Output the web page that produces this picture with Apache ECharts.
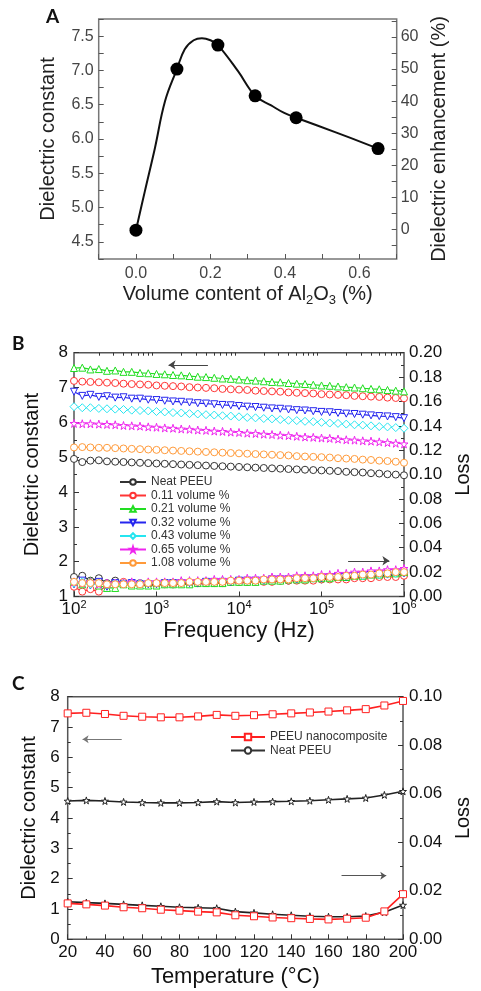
<!DOCTYPE html>
<html><head><meta charset="utf-8">
<script src="https://cdn.jsdelivr.net/npm/echarts@6/dist/echarts.min.js"></script>
<style>html,body{margin:0;padding:0;background:#fff}#c{width:481px;height:991px}</style>
</head><body><div id="c"></div>
<script>
const FONT = 'Liberation Sans';

// ---------- Panel A ----------
const volContent = [0, 0.11, 0.22, 0.32, 0.43, 0.65];
const dielA = [4.67, 7.02, 7.37, 6.63, 6.31, 5.86];
// fitted curve as drawn in the figure
const curveAX = [0, 0.024, 0.051, 0.078, 0.11, 0.131, 0.155, 0.177, 0.2, 0.22, 0.274, 0.32, 0.363, 0.398, 0.43, 0.54, 0.65];
const curveAY = [4.67, 5.24, 5.87, 6.55, 7.02, 7.31, 7.44, 7.47, 7.44, 7.37, 6.99, 6.63, 6.49, 6.38, 6.31, 6.09, 5.86];
const neatA = 4.68;
const aYMin = 4.25, aYMax = 7.75;
const enhTicks = [-5, 0, 5, 10, 15, 20, 25, 30, 35, 40, 45, 50, 55, 60, 65];
const enhLabels = [0, 10, 20, 30, 40, 50, 60];

// ---------- Panel B ----------
const freqB = [100,126,158,200,251,316,398,501,631,794,
  1000,1259,1585,1995,2512,3162,3981,5012,6310,7943,
  10000,12589,15849,19953,25119,31623,39811,50119,63096,79433,
  100000,125893,158489,199526,251189,316228,398107,501187,630957,794328,
  1000000];
const bMinorTicks = [200,300,400,500,600,700,800,900,2000,3000,4000,5000,6000,7000,8000,9000,
  20000,30000,40000,50000,60000,70000,80000,90000,200000,300000,400000,500000,600000,700000,800000,900000];
const bNames = ['Neat PEEU','0.11 volume %','0.21 volume %','0.32 volume %','0.43 volume %','0.65 volume %','1.08 volume %'];
const dielNeatB = [4.95,4.86,4.90,4.91,4.88,4.87,4.86,4.85,4.84,4.83,4.82,4.81,4.80,4.79,4.78,4.77,4.76,4.75,4.74,4.73,4.72,4.71,4.70,4.69,4.68,4.67,4.66,4.65,4.64,4.63,4.62,4.61,4.60,4.58,4.57,4.56,4.54,4.53,4.51,4.50,4.48];
const diel011B = [7.19,7.17,7.16,7.15,7.14,7.13,7.11,7.10,7.09,7.08,7.06,7.05,7.04,7.03,7.01,7.00,6.99,6.98,6.96,6.95,6.94,6.93,6.91,6.90,6.89,6.88,6.86,6.85,6.84,6.83,6.81,6.80,6.79,6.78,6.76,6.75,6.74,6.73,6.71,6.70,6.69];
const diel021B = [7.56,7.57,7.52,7.53,7.48,7.49,7.45,7.45,7.42,7.41,7.39,7.38,7.36,7.35,7.33,7.31,7.30,7.28,7.26,7.25,7.23,7.21,7.20,7.18,7.16,7.15,7.13,7.11,7.10,7.08,7.06,7.05,7.03,7.01,7.00,6.98,6.96,6.95,6.93,6.91,6.89];
const diel032B = [6.88,6.76,6.79,6.73,6.75,6.71,6.72,6.68,6.68,6.65,6.64,6.62,6.60,6.59,6.57,6.55,6.54,6.52,6.50,6.49,6.47,6.45,6.44,6.42,6.40,6.39,6.37,6.35,6.34,6.32,6.30,6.29,6.27,6.25,6.24,6.22,6.20,6.18,6.17,6.15,6.12];
const diel043B = [6.45,6.42,6.42,6.40,6.39,6.38,6.37,6.35,6.34,6.33,6.31,6.30,6.28,6.27,6.25,6.24,6.22,6.21,6.19,6.18,6.16,6.14,6.13,6.11,6.10,6.08,6.06,6.05,6.03,6.02,6.00,5.98,5.97,5.95,5.93,5.92,5.90,5.88,5.87,5.85,5.83];
const diel065B = [5.97,5.96,5.96,5.95,5.94,5.93,5.91,5.90,5.89,5.87,5.86,5.84,5.83,5.81,5.80,5.78,5.77,5.75,5.74,5.72,5.71,5.69,5.68,5.66,5.65,5.63,5.62,5.60,5.58,5.57,5.55,5.54,5.52,5.50,5.49,5.47,5.46,5.44,5.42,5.40,5.38];
const diel108B = [5.28,5.29,5.28,5.27,5.27,5.26,5.25,5.24,5.23,5.22,5.21,5.20,5.19,5.18,5.17,5.16,5.15,5.14,5.13,5.12,5.11,5.10,5.09,5.08,5.07,5.06,5.05,5.03,5.02,5.01,5.00,4.99,4.97,4.96,4.95,4.93,4.92,4.90,4.89,4.87,4.84];
const lossNeatB = [0.016,0.017,0.013,0.015,0.011,0.013,0.011,0.010,0.011,0.010,0.010,0.011,0.010,0.011,0.011,0.011,0.011,0.012,0.012,0.012,0.012,0.012,0.013,0.013,0.013,0.013,0.013,0.014,0.014,0.014,0.014,0.015,0.015,0.015,0.016,0.016,0.016,0.017,0.017,0.018,0.018];
const loss011B = [0.008,0.004,0.006,0.004,0.009,0.011,0.012,0.010,0.010,0.010,0.010,0.010,0.010,0.011,0.011,0.011,0.011,0.011,0.011,0.012,0.012,0.012,0.012,0.012,0.012,0.013,0.013,0.013,0.013,0.013,0.014,0.014,0.014,0.014,0.015,0.015,0.015,0.016,0.016,0.016,0.017];
const loss021B = [0.012,0.010,0.013,0.009,0.007,0.007,0.010,0.009,0.009,0.009,0.009,0.010,0.010,0.010,0.010,0.011,0.011,0.011,0.011,0.012,0.012,0.012,0.012,0.013,0.013,0.013,0.014,0.014,0.014,0.015,0.015,0.015,0.016,0.016,0.017,0.017,0.018,0.018,0.019,0.019,0.020];
const loss032B = [0.010,0.013,0.009,0.012,0.008,0.011,0.010,0.011,0.010,0.010,0.010,0.011,0.011,0.011,0.011,0.011,0.012,0.012,0.012,0.012,0.013,0.013,0.013,0.013,0.014,0.014,0.014,0.014,0.015,0.015,0.015,0.016,0.016,0.016,0.017,0.017,0.018,0.018,0.018,0.019,0.019];
const loss043B = [0.011,0.012,0.010,0.011,0.010,0.011,0.011,0.011,0.011,0.011,0.011,0.011,0.011,0.012,0.012,0.012,0.012,0.012,0.013,0.013,0.013,0.013,0.013,0.014,0.014,0.014,0.014,0.015,0.015,0.015,0.016,0.016,0.016,0.017,0.017,0.017,0.018,0.018,0.019,0.019,0.020];
const loss065B = [0.012,0.011,0.012,0.010,0.011,0.011,0.011,0.012,0.011,0.012,0.012,0.012,0.012,0.013,0.013,0.013,0.013,0.014,0.014,0.014,0.014,0.015,0.015,0.015,0.016,0.016,0.016,0.017,0.017,0.017,0.018,0.018,0.019,0.019,0.020,0.020,0.021,0.021,0.022,0.022,0.023];
const loss108B = [0.012,0.011,0.011,0.011,0.010,0.010,0.010,0.010,0.010,0.011,0.011,0.011,0.011,0.011,0.012,0.012,0.012,0.012,0.012,0.013,0.013,0.013,0.013,0.014,0.014,0.014,0.014,0.015,0.015,0.015,0.016,0.016,0.016,0.017,0.017,0.018,0.018,0.019,0.019,0.020,0.020];
const bDiel = [dielNeatB, diel011B, diel021B, diel032B, diel043B, diel065B, diel108B];
const bLoss = [lossNeatB, loss011B, loss021B, loss032B, loss043B, loss065B, loss108B];

// ---------- Panel C ----------
const tempC = [20,30,40,50,60,70,80,90,100,110,120,130,140,150,160,170,180,190,200];
const cNames = ['PEEU nanocomposite', 'Neat PEEU'];
const dielNanoC = [7.45,7.47,7.43,7.37,7.34,7.32,7.32,7.35,7.40,7.37,7.39,7.42,7.45,7.48,7.51,7.55,7.59,7.71,7.86];
const dielNeatC = [4.56,4.58,4.56,4.53,4.51,4.50,4.50,4.51,4.54,4.51,4.53,4.54,4.55,4.57,4.60,4.63,4.66,4.76,4.88];
const lossNanoC = [0.0148,0.0144,0.0139,0.0132,0.0128,0.0122,0.0118,0.0114,0.0111,0.0099,0.0095,0.0090,0.0087,0.0084,0.0082,0.0085,0.0089,0.0115,0.0186];
const lossNeatC = [0.0155,0.0151,0.0148,0.0144,0.0140,0.0136,0.0132,0.0130,0.0128,0.0114,0.0109,0.0103,0.0099,0.0095,0.0093,0.0093,0.0096,0.0112,0.0141];

// ---------- styles ----------
const bColors = ['#333333','#ff3535','#22dd22','#2525ee','#25e5f0','#ee25ee','#ff9a3a'];
const starPath = 'path://M50,0 L61,35 L98,35 L68,57 L79,91 L50,70 L21,91 L32,57 L2,35 L39,35 Z';
const bSymbols = ['circle','circle','triangle','triangle','diamond',starPath,'circle'];
const bRotate = [0,0,0,180,0,0,0];
const bSizes = [7,7,7,7,8,8,7];

const chart = echarts.init(document.getElementById('c'), null, {renderer:'canvas'});

const noLine = {show:false, onZero:false};
const tickA = {show:true, inside:true, length:5, lineStyle:{color:'#555', width:1}};
const tickB = {show:true, inside:true, length:5, lineStyle:{color:'#333', width:1}};
const minorB = {show:true, splitNumber:2, length:3, lineStyle:{color:'#333', width:1}};
const F = (o) => Object.assign({fontFamily:FONT}, o);

const series = [];
// A
series.push({type:'line', xAxisIndex:0, yAxisIndex:0, data: curveAX.map((x,i)=>[x, curveAY[i]]),
  smooth:0.4, showSymbol:false, lineStyle:{color:'#111', width:2}, silent:true, z:2});
series.push({type:'scatter', xAxisIndex:0, yAxisIndex:0, data: volContent.map((x,i)=>[x, dielA[i]]),
  symbolSize:13, itemStyle:{color:'#000', opacity:1}, z:3});
// B
bNames.forEach((n,i)=>{
  const c = bColors[i];
  const common = {name:n, type:'line', xAxisIndex:1, symbol:bSymbols[i], symbolSize:bSizes[i], symbolRotate:bRotate[i],
    lineStyle:{color:c, width:1.2}, itemStyle:{color:'#fff', borderColor:c, borderWidth:1}};
  const s1 = Object.assign({}, common, {yAxisIndex:2, data: freqB.map((f,k)=>[f, bDiel[i][k]])});
  const s2 = Object.assign({}, common, {yAxisIndex:3, data: freqB.map((f,k)=>[f, bLoss[i][k]])});
  if (i === 2) s1.markLine = {silent:true, symbol:['none','arrow'], symbolSize:7, label:{show:false},
    lineStyle:{color:'#444', width:1, type:'solid'}, data:[[{coord:[4200,7.65]},{coord:[1400,7.65]}]]};
  if (i === 0) s2.markLine = {silent:true, symbol:['none','arrow'], symbolSize:7, label:{show:false},
    lineStyle:{color:'#444', width:1, type:'solid'}, data:[[{coord:[210000,0.0293]},{coord:[665000,0.0293]}]]};
  series.push(s1, s2);
});
// C
const cColors = ['#ff2020','#222222'];
const cSym = ['rect', starPath];
const cSize = [7, 7];
const cDiel = [dielNanoC, dielNeatC];
const cLoss = [lossNanoC, lossNeatC];
cNames.forEach((n,i)=>{
  const c = cColors[i];
  const common = {name:n, type:'line', xAxisIndex:4, symbol:cSym[i], symbolSize:cSize[i],
    lineStyle:{color:c, width:1.6}, itemStyle:{color:'#fff', borderColor:c, borderWidth:1}, z: i===0?3:2};
  const s1 = Object.assign({}, common, {yAxisIndex:4, data: tempC.map((t,k)=>[t, cDiel[i][k]])});
  const s2 = Object.assign({}, common, {yAxisIndex:5, data: tempC.map((t,k)=>[t, cLoss[i][k]])});
  if (i === 0) {
    s1.markLine = {silent:true, symbol:['none','arrow'], symbolSize:6, label:{show:false},
      lineStyle:{color:'#777', width:1, type:'solid'}, data:[[{coord:[49,6.6]},{coord:[28,6.6]}]]};
    s2.markLine = {silent:true, symbol:['none','arrow'], symbolSize:6, label:{show:false},
      lineStyle:{color:'#555', width:1, type:'solid'}, data:[[{coord:[167,0.0262]},{coord:[191,0.0262]}]]};
  }
  series.push(s1, s2);
});

const aEnhMin = (aYMin/neatA - 1)*100, aEnhMax = (aYMax/neatA - 1)*100;
const freqLogMin = Math.log10(freqB[0]), freqLogMax = Math.log10(freqB[freqB.length-1]);

const option = {
  animation:false,
  textStyle:{fontFamily:FONT},
  title:[
    {text:'A', left:46, top:7, padding:0, textStyle:{fontFamily:'Lato', fontWeight:'bold', fontSize:19, color:'#111'}},
    {text:'B', left:12, top:334, padding:0, textStyle:{fontFamily:'Lato', fontWeight:'bold', fontSize:19, color:'#111'}},
    {text:'C', left:12, top:674, padding:0, textStyle:{fontFamily:'Lato', fontWeight:'bold', fontSize:19, color:'#111'}}
  ],
  legend:[
    {data:bNames, orient:'vertical', left:119, top:476, itemWidth:26, itemHeight:7, itemGap:1.5, padding:0,
      textStyle:F({fontSize:12, color:'#333'}), selectedMode:false},
    {data:cNames, orient:'vertical', left:230, top:731, itemWidth:34, itemHeight:8, itemGap:1.5, padding:0,
      textStyle:F({fontSize:12, color:'#333'}), selectedMode:false}
  ],
  grid:[
    {left:98.7, top:19, width:298, height:240, show:true, borderColor:'#777', borderWidth:1.5, backgroundColor:'transparent'},
    {left:74, top:352.7, width:339.3, height:243.8, show:true, borderColor:'#555', borderWidth:1.5, backgroundColor:'transparent'},
    {left:67.7, top:696.7, width:345.6, height:242.6, show:true, borderColor:'#555', borderWidth:1.5, backgroundColor:'transparent'}
  ],
  xAxis:[
    {gridIndex:0, type:'value', min:-0.1, max:0.7, interval:0.1, axisLine:noLine, splitLine:{show:false}, axisTick:tickA,
      axisLabel:F({fontSize:16, color:'#444', margin:7, formatter:v=>{const r=Math.round(v*10); return (r>=0 && r<=6 && r%2===0)?(r/10).toFixed(1):'';}}),
      name:'Volume content of Al{sub|2}O{sub|3} (%)', nameLocation:'middle', nameGap:20,
      nameTextStyle:F({fontSize:20, color:'#222', lineHeight:24, rich:{sub:{fontFamily:FONT, fontSize:13, lineHeight:13, verticalAlign:'bottom', color:'#222'}}})},
    {gridIndex:1, type:'log', logBase:10, min:100, max:1000000, axisLine:noLine, splitLine:{show:false}, axisTick:tickB,
      axisLabel:{margin:3, color:'#111', formatter:v=>'{b|10}{s|'+Math.round(Math.log10(v))+'}',
        rich:{b:{fontFamily:FONT, fontSize:17, lineHeight:20, color:'#111'}, s:{fontFamily:FONT, fontSize:11, lineHeight:11, verticalAlign:'top', color:'#111'}}},
      name:'Frequency (Hz)', nameLocation:'middle', nameGap:23, nameTextStyle:F({fontSize:22, color:'#111'})},
    // minor ticks of the log axis, placed in log10 space
    {gridIndex:1, type:'value', min:freqLogMin, max:freqLogMax, axisLine:noLine, splitLine:{show:false}, axisLabel:{show:false},
      axisTick:{show:true, inside:true, length:3, customValues:bMinorTicks.map(v=>Math.log10(v)), lineStyle:{color:'#333', width:1}}},
    {gridIndex:1, type:'value', show:false, min:freqLogMin, max:freqLogMax},
    {gridIndex:2, type:'value', min:20, max:200, interval:20, axisLine:noLine, splitLine:{show:false}, axisTick:tickB, minorTick:minorB,
      axisLabel:F({fontSize:17, color:'#111', margin:5}),
      name:'Temperature (°C)', nameLocation:'middle', nameGap:27, nameTextStyle:F({fontSize:22, color:'#111'})}
  ],
  yAxis:[
    {gridIndex:0, type:'value', min:aYMin, max:aYMax, interval:0.25, axisLine:noLine, splitLine:{show:false}, axisTick:tickA,
      axisLabel:F({fontSize:16, color:'#444', margin:5, formatter:v=>{const r=Math.round(v*100); return (r%50===0 && r>=450 && r<=750)?(r/100).toFixed(1):'';}}),
      name:'Dielectric constant', nameLocation:'middle', nameGap:40, nameTextStyle:F({fontSize:20, color:'#222'})},
    {gridIndex:0, type:'value', position:'right', min:aEnhMin, max:aEnhMax, axisLine:noLine, splitLine:{show:false},
      axisTick:Object.assign({}, tickA, {customValues:enhTicks}),
      axisLabel:F({fontSize:16, color:'#444', margin:4, customValues:enhLabels}),
      name:'Dielectric enhancement (%)', nameLocation:'middle', nameGap:33, nameTextStyle:F({fontSize:20, color:'#222'})},
    {gridIndex:1, type:'value', min:1, max:8, interval:1, axisLine:noLine, splitLine:{show:false}, axisTick:tickB, minorTick:minorB,
      axisLabel:F({fontSize:17, color:'#111', margin:6}),
      name:'Dielectric constant', nameLocation:'middle', nameGap:32, nameTextStyle:F({fontSize:20, color:'#111'})},
    {gridIndex:1, type:'value', position:'right', min:0, max:0.2, interval:0.02, axisLine:noLine, splitLine:{show:false}, axisTick:tickB, minorTick:minorB,
      axisLabel:F({fontSize:17, color:'#111', margin:5, formatter:v=>v.toFixed(2)}),
      name:'Loss', nameLocation:'middle', nameGap:47, nameTextStyle:F({fontSize:20, color:'#111'})},
    {gridIndex:2, type:'value', min:0, max:8, interval:1, axisLine:noLine, splitLine:{show:false}, axisTick:tickB, minorTick:minorB,
      axisLabel:F({fontSize:17, color:'#111', margin:8}),
      name:'Dielectric constant', nameLocation:'middle', nameGap:27, nameTextStyle:F({fontSize:20, color:'#111'})},
    {gridIndex:2, type:'value', position:'right', min:0, max:0.1, interval:0.02, axisLine:noLine, splitLine:{show:false}, axisTick:tickB, minorTick:minorB,
      axisLabel:F({fontSize:17, color:'#111', margin:6, formatter:v=>v.toFixed(2)}),
      name:'Loss', nameLocation:'middle', nameGap:46, nameTextStyle:F({fontSize:20, color:'#111'})}
  ],
  series: series
};
chart.setOption(option);
</script>
</body></html>
